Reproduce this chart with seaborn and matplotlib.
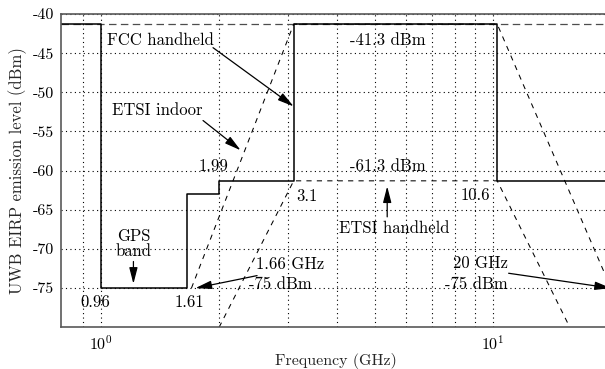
import matplotlib
matplotlib.use("Agg")
import matplotlib.pyplot as plt
import matplotlib.ticker as mticker
import numpy as np
import pandas as pd
import seaborn as sns

# ---------------- data ----------------
# FCC handheld mask (step, value holds from x[i] to x[i+1])
fcc_freq = [0.79, 1.0, 1.66, 2.0, 3.1, 10.25, 20.0]
fcc_level = [-41.3, -75.0, -63.0, -61.3, -41.3, -61.3, -61.3]

# reference -41.3 dBm dashed line across the band
ref_freq = [0.79, 20.0]
ref_level = [-41.3, -41.3]

# ETSI indoor mask
etsi_in_freq = [1.70, 3.1, 10.25, 20.0]
etsi_in_level = [-75.0, -41.3, -41.3, -75.0]

# ETSI handheld mask
etsi_hh_freq = [2.0, 3.1, 10.25, 15.7]
etsi_hh_level = [-80.0, -61.3, -61.3, -80.0]

y_ticks = [-75, -70, -65, -60, -55, -50, -45, -40]
y_ticklabels = ["-75", "-70", "-65", "-60", "-55", "-50", "-45", "-40"]
x_ticks = [1, 10]
x_ticklabels = ["$10^0$", "$10^1$"]
x_minor_ticks = [0.9, 2, 3, 4, 5, 6, 7, 8, 9]

# ---------------- style ----------------
sns.set_theme(style="white")
plt.rcParams["font.family"] = ["cmr10", "DejaVu Serif"]
plt.rcParams["mathtext.fontset"] = "cm"
plt.rcParams["axes.unicode_minus"] = False

fig = plt.figure(figsize=(6.05, 3.69), dpi=100)
W, H = 605.0, 369.0
ax = fig.add_axes([61 / W, 41.7 / H, 550 / W, 313.3 / H])

sns.lineplot(x=ref_freq, y=ref_level, ax=ax, color="0.3", linewidth=0.9,
             linestyle=(0, (6, 3.5)), estimator=None, sort=False)
sns.lineplot(x=etsi_in_freq, y=etsi_in_level, ax=ax, color="black", linewidth=0.75,
             linestyle=(0, (5, 5)), estimator=None, sort=False)
sns.lineplot(x=etsi_hh_freq, y=etsi_hh_level, ax=ax, color="black", linewidth=0.75,
             linestyle=(0, (5, 5)), estimator=None, sort=False)
sns.lineplot(x=fcc_freq, y=fcc_level, ax=ax, color="black", linewidth=1.1,
             drawstyle="steps-post", estimator=None, sort=False)

ax.set_xscale("log")
ax.set_xlim(0.79, 20)
ax.set_ylim(-80, -40)

ax.set_xticks(x_ticks)
ax.set_xticklabels(x_ticklabels)
ax.xaxis.set_minor_locator(mticker.FixedLocator(x_minor_ticks))
ax.xaxis.set_minor_formatter(mticker.NullFormatter())
ax.set_yticks(y_ticks)
ax.set_yticklabels(y_ticklabels)

ax.tick_params(axis="both", which="both", length=0, labelsize=11.5, colors="black")
ax.tick_params(axis="y", pad=5)
ax.tick_params(axis="x", pad=5)

grid_kw = dict(color="black", linestyle=(0, (1, 3)), linewidth=0.8)
ax.grid(True, axis="x", which="both", **grid_kw)
ax.grid(True, axis="y", which="major", **grid_kw)

for s in ["left", "bottom", "top", "right"]:
    ax.spines[s].set_color("0.35")
    ax.spines[s].set_linewidth(1.2)

ax.set_xlabel("Frequency (GHz)", fontsize=11.5, labelpad=0)
ax.set_ylabel("UWB EIRP emission level (dBm)", fontsize=12, labelpad=4)

# ---------------- annotations ----------------
tk = dict(fontsize=12, color="black")
arw = dict(arrowstyle="-|>,head_length=0.7,head_width=0.18", color="black",
           lw=0.9, shrinkA=0, shrinkB=0, mutation_scale=14)

ax.annotate("", xy=(3.1, -51.8), xytext=(1.93, -44.3), arrowprops=arw)
ax.text(1.417, -43.3, "FCC handheld", ha="center", va="center", **tk)

ax.annotate("", xy=(2.27, -57.4), xytext=(1.82, -53.6), arrowprops=arw)
ax.text(1.388, -52.25, "ETSI indoor", ha="center", va="center", **tk)

ax.text(1.93, -59.4, "1.99", ha="center", va="center", **tk)
ax.text(3.34, -63.3, "3.1", ha="center", va="center", **tk)
ax.text(5.39, -43.3, "-41.3 dBm", ha="center", va="center", **tk)
ax.text(5.39, -59.4, "-61.3 dBm", ha="center", va="center", **tk)

ax.annotate("", xy=(5.37, -62.0), xytext=(5.37, -65.9), arrowprops=arw)
ax.text(5.59, -67.4, "ETSI handheld", ha="center", va="center", **tk)

ax.text(9.04, -63.2, "10.6", ha="center", va="center", **tk)

ax.text(1.209, -68.4, "GPS", ha="center", va="center", **tk)
ax.text(1.209, -70.3, "band", ha="center", va="center", **tk)
ax.annotate("", xy=(1.209, -74.45), xytext=(1.209, -71.6), arrowprops=arw)

ax.text(0.967, -76.8, "0.96", ha="center", va="center", **tk)
ax.text(1.68, -76.8, "1.61", ha="center", va="center", **tk)

ax.annotate("", xy=(1.74, -75.0), xytext=(2.50, -73.4), arrowprops=arw)
ax.text(3.03, -71.9, "1.66 GHz", ha="center", va="center", **tk)
ax.text(2.86, -74.5, "-75 dBm", ha="center", va="center", **tk)

ax.annotate("", xy=(20.0, -75.0), xytext=(10.96, -73.1), arrowprops=arw)
ax.text(9.3, -71.8, "20 GHz", ha="center", va="center", **tk)
ax.text(9.07, -74.5, "-75 dBm", ha="center", va="center", **tk)

if ax.get_legend() is not None:
    ax.get_legend().remove()

fig.savefig("out.png", dpi=100)
